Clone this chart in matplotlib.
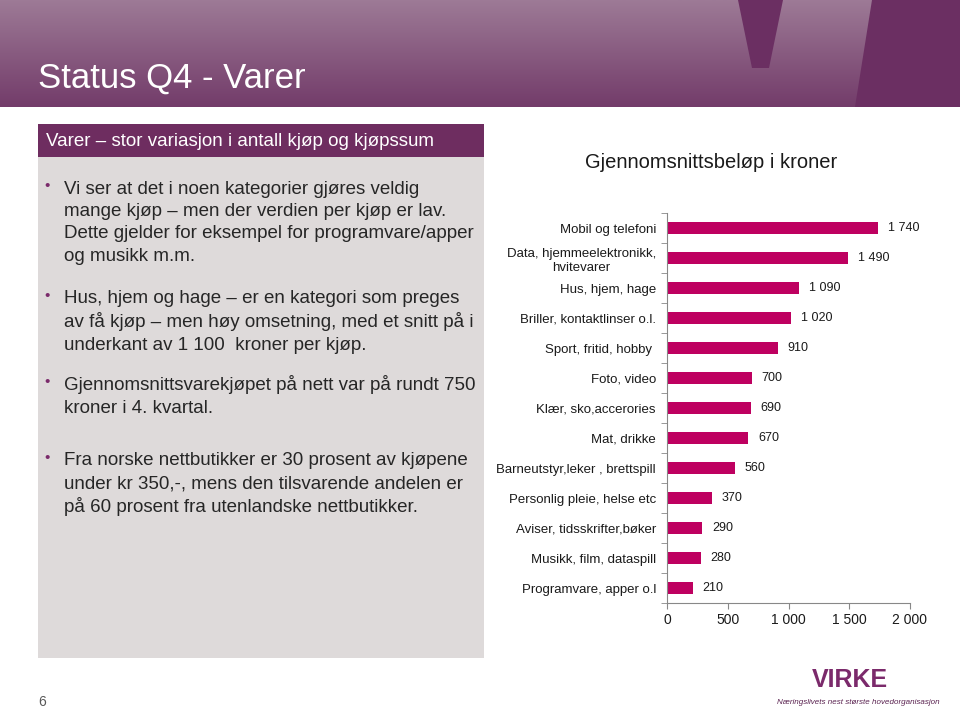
import numpy as np
import matplotlib.pyplot as plt
from matplotlib.patches import Rectangle, Polygon
from matplotlib.colors import LinearSegmentedColormap

W, H = 960, 717

categories = ['Mobil og telefoni', 'Data, hjemmeelektronikk,\nhvitevarer',
              'Hus, hjem, hage', 'Briller, kontaktlinser o.l.',
              'Sport, fritid, hobby ', 'Foto, video', 'Klær, sko,accerories',
              'Mat, drikke', 'Barneutstyr,leker , brettspill',
              'Personlig pleie, helse etc', 'Aviser, tidsskrifter,bøker',
              'Musikk, film, dataspill', 'Programvare, apper o.l']
values = [1740, 1490, 1090, 1020, 910, 700, 690, 670, 560, 370, 290, 280, 210]
x_ticks = [0, 500, 1000, 1500, 2000]

slide_title = 'Status Q4 - Varer'
panel_title = 'Varer – stor variasjon i antall kjøp og kjøpssum'
bullets = [
    ['Vi ser at det i noen kategorier gjøres veldig',
     'mange kjøp – men der verdien per kjøp er lav.',
     'Dette gjelder for eksempel for programvare/apper',
     'og musikk m.m.'],
    ['Hus, hjem og hage – er en kategori som preges',
     'av få kjøp – men høy omsetning, med et snitt på i',
     'underkant av 1 100  kroner per kjøp.'],
    ['Gjennomsnittsvarekjøpet på nett var på rundt 750',
     'kroner i 4. kvartal.'],
    ['Fra norske nettbutikker er 30 prosent av kjøpene',
     'under kr 350,-, mens den tilsvarende andelen er',
     'på 60 prosent fra utenlandske nettbutikker.'],
]
bullet_rows = [[189, 211, 233, 256], [299, 322, 346], [385, 408], [461, 484, 507]]

plt.rcParams['font.family'] = ['Liberation Sans', 'DejaVu Sans']

PURPLE = '#6E2D60'
BAR = '#BE0060'


def fx(x):
    return x / W


def fy(y):
    return 1 - y / H


def fmt(v):
    return f'{v:,}'.replace(',', ' ')


fig = plt.figure(figsize=(9.6, 7.17), dpi=100)
fig.patch.set_facecolor('white')

# header band with vertical gradient
hdr = fig.add_axes([0, fy(107), 1, 107 / H])
cmap = LinearSegmentedColormap.from_list('hdr', ['#9D7A96', '#733C6A'])
hdr.imshow(np.linspace(0, 1, 100).reshape(-1, 1), aspect='auto', cmap=cmap,
           extent=[0, W, 107, 0])
hdr.add_patch(Polygon([[738, 0], [783, 0], [769, 68], [752, 68]],
                      closed=True, color='#6B2F62', lw=0))
hdr.add_patch(Polygon([[872, 0], [W, 0], [W, 107], [855, 107]],
                      closed=True, color='#6B2F62', lw=0))
hdr.set_xlim(0, W)
hdr.set_ylim(107, 0)
hdr.axis('off')
fig.text(fx(38), fy(78), slide_title, color='white', fontsize=25,
         va='center', ha='left')

# left text panel
fig.patches.append(Rectangle((fx(38), fy(658)), fx(484) - fx(38), (658 - 124) / H,
                             transform=fig.transFigure, color='#DEDADA', lw=0))
fig.patches.append(Rectangle((fx(38), fy(157)), fx(484) - fx(38), 33 / H,
                             transform=fig.transFigure, color=PURPLE, lw=0))
fig.text(fx(46), fy(141), panel_title, color='white', fontsize=13.5,
         va='center', ha='left')
for lines, rows in zip(bullets, bullet_rows):
    fig.text(fx(44), fy(rows[0] - 3), '•', color='#7B2A6B', fontsize=11,
             va='center', ha='left')
    for txt, yy in zip(lines, rows):
        fig.text(fx(64), fy(yy), txt, color='#262626', fontsize=13.5,
                 va='center', ha='left')

# bar chart
ax = fig.add_axes([fx(667), fy(603), fx(910) - fx(667), (603 - 213) / H])
pos = np.arange(len(categories))[::-1]
ax.barh(pos, values, height=0.43, color=BAR)
for p, v in zip(pos, values):
    ax.text(v + 80, p, fmt(v), va='center', ha='left', fontsize=9,
            color='#1a1a1a')
ax.set_xlim(0, 2000)
ax.set_ylim(-0.5, len(categories) - 0.5)
ax.set_xticks(x_ticks)
ax.set_xticklabels([fmt(t) for t in x_ticks], fontsize=10, color='#1a1a1a')
ax.set_yticks(pos)
ax.set_yticklabels(categories, fontsize=9.5, color='#1a1a1a',
                   multialignment='center', linespacing=1.3)
ax.set_yticks(np.arange(len(categories) + 1) - 0.5, minor=True)
ax.tick_params(axis='y', which='major', length=0, pad=8)
ax.tick_params(axis='y', which='minor', length=4, color='#888888')
ax.tick_params(axis='x', length=4, color='#888888', pad=3)
for s in ['top', 'right']:
    ax.spines[s].set_visible(False)
ax.spines['left'].set_color('#888888')
ax.spines['bottom'].set_color('#888888')
ax.set_facecolor('none')
fig.text(fx(711), fy(162), 'Gjennomsnittsbeløp i kroner', fontsize=14.5,
         color='#1a1a1a', ha='center', va='center')

# footer
fig.text(fx(42), fy(702), '6', fontsize=10, color='#595959',
         ha='center', va='center')
fig.text(fx(850), fy(680), 'VIRKE', fontsize=18, fontweight='bold',
         color='#7B2A6B', ha='center', va='center')
fig.text(fx(858), fy(703), 'Næringslivets nest største hovedorganisasjon',
         fontsize=5.8, style='italic', color='#5A2250', ha='center',
         va='center')

fig.savefig('out.png', dpi=100)
